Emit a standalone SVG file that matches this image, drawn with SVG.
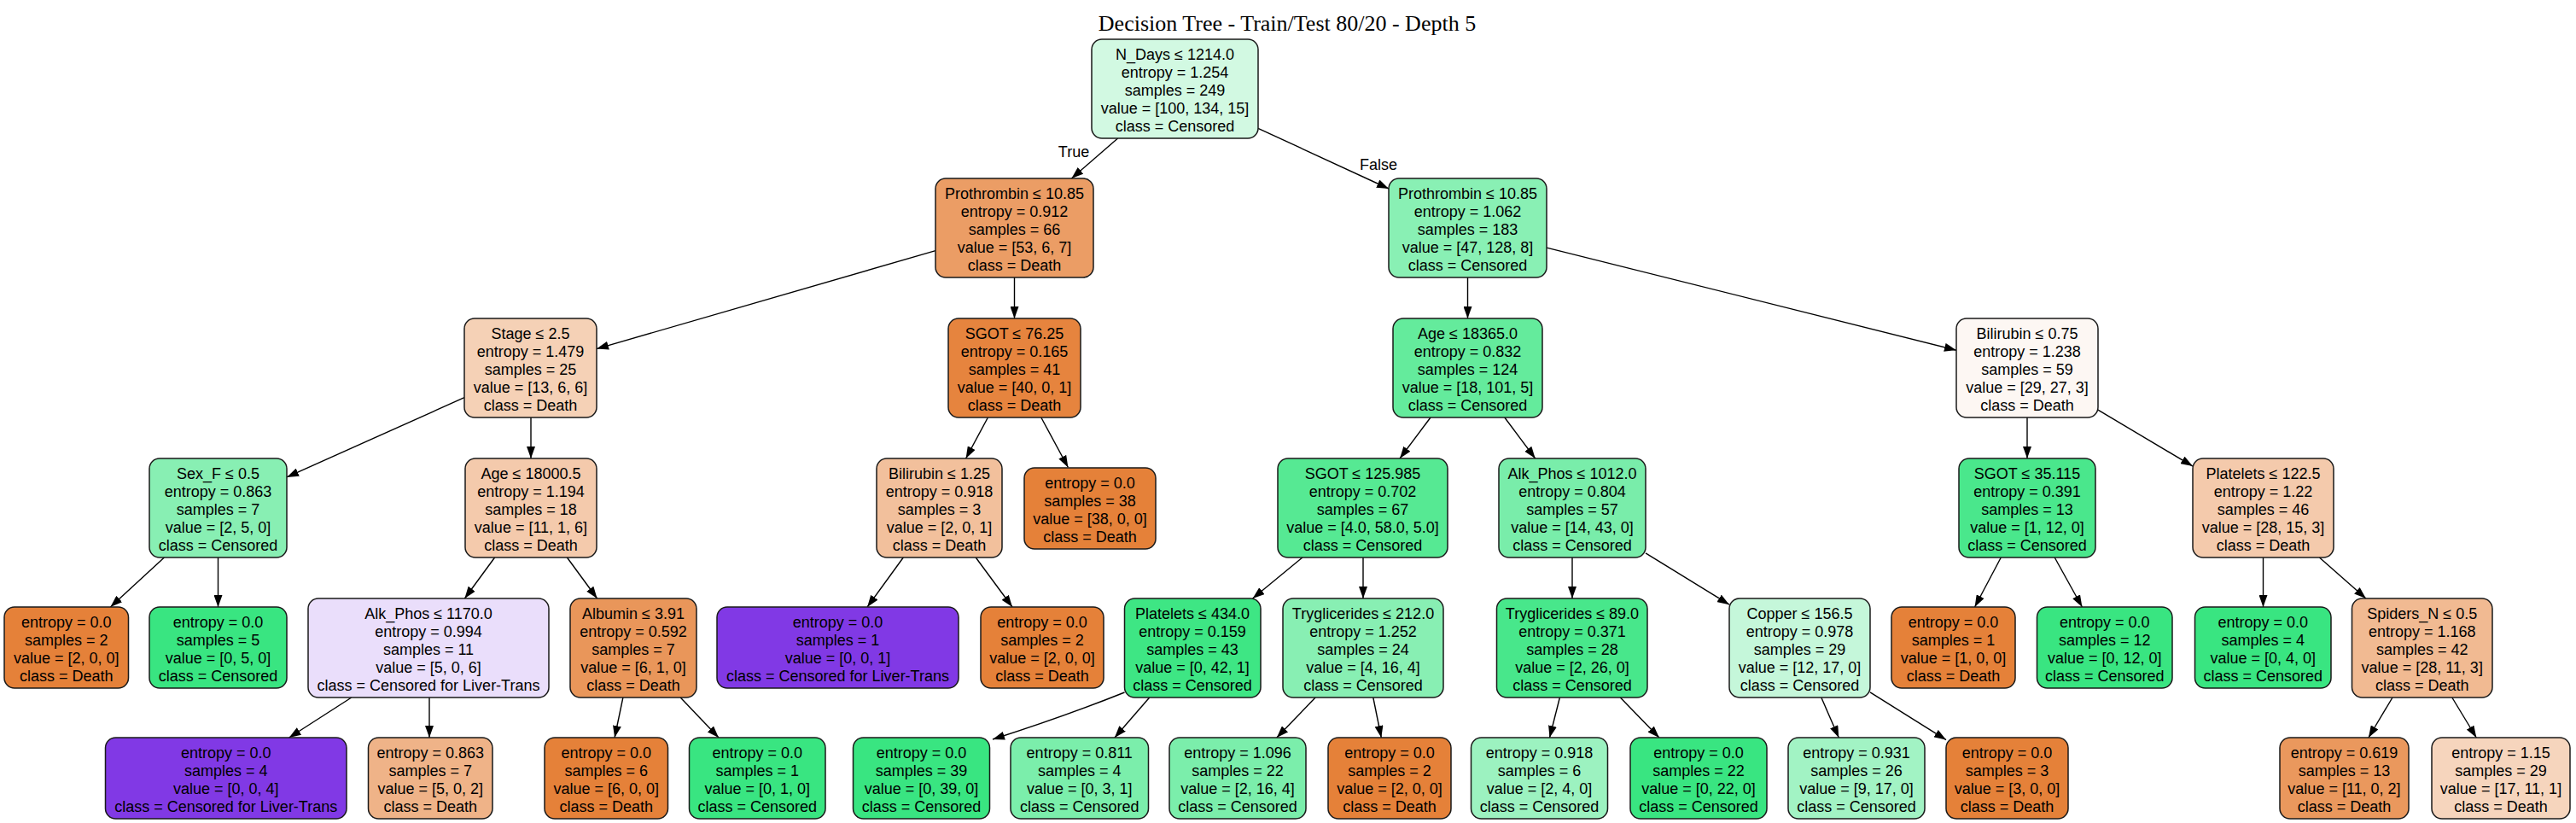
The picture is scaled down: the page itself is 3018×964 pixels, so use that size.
<svg xmlns="http://www.w3.org/2000/svg" width="3018" height="964" viewBox="0 0 3018 964">
<style>
.n rect{stroke:#1a1a1a;stroke-width:1.5;rx:12px;ry:12px}
text{font-family:"Liberation Sans",Arial,sans-serif;font-size:18px;fill:#000;text-anchor:middle}
.title{font-family:"Liberation Serif","Times New Roman",serif;font-size:26px}
#edges line,#edges path{stroke:#000;stroke-width:1.4;fill:none;marker-end:url(#a)}
</style>
<defs>
<marker id="a" markerWidth="14" markerHeight="10" refX="14" refY="5" orient="auto" markerUnits="userSpaceOnUse"><path d="M0,0 L14,5 L0,10 z" fill="#000"/></marker>
</defs>
<rect width="3018" height="964" fill="#fff"/>
<text class="title" x="1508" y="36">Decision Tree - Train/Test 80/20 - Depth 5</text>
<g id="edges">
<line x1="1309.6" y1="162" x2="1255.4" y2="209"/>
<line x1="1474" y1="150.3" x2="1627" y2="221"/>
<line x1="1096" y1="293.7" x2="699" y2="408.6"/>
<line x1="1188.5" y1="325" x2="1188.5" y2="373"/>
<line x1="1719.5" y1="325" x2="1719.5" y2="373"/>
<line x1="1812" y1="290.1" x2="2292" y2="410.2"/>
<line x1="544" y1="465.7" x2="336" y2="558.9"/>
<line x1="622" y1="489" x2="622" y2="537"/>
<line x1="1157.4" y1="489" x2="1131.6" y2="537"/>
<line x1="1219.8" y1="489" x2="1251.4" y2="547.5"/>
<line x1="1676" y1="489" x2="1640" y2="537"/>
<line x1="1762.8" y1="489" x2="1798.7" y2="537"/>
<line x1="2375" y1="489" x2="2375" y2="537"/>
<line x1="2458" y1="480.2" x2="2569" y2="546.1"/>
<line x1="192.4" y1="653" x2="129.4" y2="711"/>
<line x1="255.5" y1="653" x2="255.5" y2="711"/>
<line x1="579.6" y1="653" x2="544.4" y2="701"/>
<line x1="664.4" y1="653" x2="699.6" y2="701"/>
<line x1="1058.3" y1="653" x2="1016.1" y2="711"/>
<line x1="1143.2" y1="653" x2="1186" y2="711"/>
<line x1="1525.9" y1="653" x2="1467.6" y2="701"/>
<line x1="1597" y1="653" x2="1597" y2="701"/>
<line x1="1842" y1="653" x2="1842" y2="701"/>
<line x1="1928" y1="647.9" x2="2026" y2="708.2"/>
<line x1="2344.3" y1="653" x2="2313.6" y2="711"/>
<line x1="2407.2" y1="653" x2="2439.4" y2="711"/>
<line x1="2651.5" y1="653" x2="2651.5" y2="711"/>
<line x1="2717.4" y1="653" x2="2771.9" y2="701"/>
<line x1="411.8" y1="817" x2="338.7" y2="864"/>
<line x1="503" y1="817" x2="503" y2="864"/>
<line x1="729.9" y1="817" x2="720.1" y2="864"/>
<line x1="797.2" y1="817" x2="842" y2="864"/>
<path d="M1317.5,811 Q1245,840 1163,866"/>
<line x1="1346.7" y1="817" x2="1305.9" y2="864"/>
<line x1="1541.1" y1="817" x2="1495.8" y2="864"/>
<line x1="1608.8" y1="817" x2="1618.3" y2="864"/>
<line x1="1827.4" y1="817" x2="1815.5" y2="864"/>
<line x1="1898.3" y1="817" x2="1943.9" y2="864"/>
<line x1="2133.8" y1="817" x2="2154.3" y2="864"/>
<line x1="2191" y1="810.8" x2="2280" y2="866.6"/>
<line x1="2803" y1="817" x2="2774.9" y2="864"/>
<line x1="2872.8" y1="817" x2="2901.3" y2="864"/>
<text x="1258" y="183.5">True</text>
<text x="1615" y="198.5">False</text>
</g>
<g id="n0" class="n"><rect x="1279" y="46" width="195" height="116" fill="#d2f9e2"/><text y="69.5"><tspan x="1376.5">N_Days ≤ 1214.0</tspan><tspan x="1376.5" dy="21">entropy = 1.254</tspan><tspan x="1376.5" dy="21">samples = 249</tspan><tspan x="1376.5" dy="21">value = [100, 134, 15]</tspan><tspan x="1376.5" dy="21">class = Censored</tspan></text></g>
<g id="n1" class="n"><rect x="1096" y="209" width="185" height="116" fill="#eb9d65"/><text y="232.5"><tspan x="1188.5">Prothrombin ≤ 10.85</tspan><tspan x="1188.5" dy="21">entropy = 0.912</tspan><tspan x="1188.5" dy="21">samples = 66</tspan><tspan x="1188.5" dy="21">value = [53, 6, 7]</tspan><tspan x="1188.5" dy="21">class = Death</tspan></text></g>
<g id="n2" class="n"><rect x="1627" y="209" width="185" height="116" fill="#89f0b4"/><text y="232.5"><tspan x="1719.5">Prothrombin ≤ 10.85</tspan><tspan x="1719.5" dy="21">entropy = 1.062</tspan><tspan x="1719.5" dy="21">samples = 183</tspan><tspan x="1719.5" dy="21">value = [47, 128, 8]</tspan><tspan x="1719.5" dy="21">class = Censored</tspan></text></g>
<g id="n3" class="n"><rect x="544" y="373" width="155" height="116" fill="#f5d1b6"/><text y="396.5"><tspan x="621.5">Stage ≤ 2.5</tspan><tspan x="621.5" dy="21">entropy = 1.479</tspan><tspan x="621.5" dy="21">samples = 25</tspan><tspan x="621.5" dy="21">value = [13, 6, 6]</tspan><tspan x="621.5" dy="21">class = Death</tspan></text></g>
<g id="n4" class="n"><rect x="1111" y="373" width="155" height="116" fill="#e6843e"/><text y="396.5"><tspan x="1188.5">SGOT ≤ 76.25</tspan><tspan x="1188.5" dy="21">entropy = 0.165</tspan><tspan x="1188.5" dy="21">samples = 41</tspan><tspan x="1188.5" dy="21">value = [40, 0, 1]</tspan><tspan x="1188.5" dy="21">class = Death</tspan></text></g>
<g id="n5" class="n"><rect x="1632" y="373" width="175" height="116" fill="#64eb9c"/><text y="396.5"><tspan x="1719.5">Age ≤ 18365.0</tspan><tspan x="1719.5" dy="21">entropy = 0.832</tspan><tspan x="1719.5" dy="21">samples = 124</tspan><tspan x="1719.5" dy="21">value = [18, 101, 5]</tspan><tspan x="1719.5" dy="21">class = Censored</tspan></text></g>
<g id="n6" class="n"><rect x="2292" y="373" width="166" height="116" fill="#fdf7f3"/><text y="396.5"><tspan x="2375">Bilirubin ≤ 0.75</tspan><tspan x="2375" dy="21">entropy = 1.238</tspan><tspan x="2375" dy="21">samples = 59</tspan><tspan x="2375" dy="21">value = [29, 27, 3]</tspan><tspan x="2375" dy="21">class = Death</tspan></text></g>
<g id="n7" class="n"><rect x="175" y="537" width="161" height="116" fill="#88efb3"/><text y="560.5"><tspan x="255.5">Sex_F ≤ 0.5</tspan><tspan x="255.5" dy="21">entropy = 0.863</tspan><tspan x="255.5" dy="21">samples = 7</tspan><tspan x="255.5" dy="21">value = [2, 5, 0]</tspan><tspan x="255.5" dy="21">class = Censored</tspan></text></g>
<g id="n8" class="n"><rect x="545" y="537" width="154" height="116" fill="#f4caac"/><text y="560.5"><tspan x="622">Age ≤ 18000.5</tspan><tspan x="622" dy="21">entropy = 1.194</tspan><tspan x="622" dy="21">samples = 18</tspan><tspan x="622" dy="21">value = [11, 1, 6]</tspan><tspan x="622" dy="21">class = Death</tspan></text></g>
<g id="n9" class="n"><rect x="1027" y="537" width="147" height="116" fill="#f2c09c"/><text y="560.5"><tspan x="1100.5">Bilirubin ≤ 1.25</tspan><tspan x="1100.5" dy="21">entropy = 0.918</tspan><tspan x="1100.5" dy="21">samples = 3</tspan><tspan x="1100.5" dy="21">value = [2, 0, 1]</tspan><tspan x="1100.5" dy="21">class = Death</tspan></text></g>
<g id="n10" class="n"><rect x="1200" y="548" width="154" height="95" fill="#e58139"/><text y="571.5"><tspan x="1277">entropy = 0.0</tspan><tspan x="1277" dy="21">samples = 38</tspan><tspan x="1277" dy="21">value = [38, 0, 0]</tspan><tspan x="1277" dy="21">class = Death</tspan></text></g>
<g id="n11" class="n"><rect x="1497" y="537" width="199" height="116" fill="#56e993"/><text y="560.5"><tspan x="1596.5">SGOT ≤ 125.985</tspan><tspan x="1596.5" dy="21">entropy = 0.702</tspan><tspan x="1596.5" dy="21">samples = 67</tspan><tspan x="1596.5" dy="21">value = [4.0, 58.0, 5.0]</tspan><tspan x="1596.5" dy="21">class = Censored</tspan></text></g>
<g id="n12" class="n"><rect x="1756" y="537" width="172" height="116" fill="#79edaa"/><text y="560.5"><tspan x="1842">Alk_Phos ≤ 1012.0</tspan><tspan x="1842" dy="21">entropy = 0.804</tspan><tspan x="1842" dy="21">samples = 57</tspan><tspan x="1842" dy="21">value = [14, 43, 0]</tspan><tspan x="1842" dy="21">class = Censored</tspan></text></g>
<g id="n13" class="n"><rect x="2295" y="537" width="160" height="116" fill="#4ae78c"/><text y="560.5"><tspan x="2375">SGOT ≤ 35.115</tspan><tspan x="2375" dy="21">entropy = 0.391</tspan><tspan x="2375" dy="21">samples = 13</tspan><tspan x="2375" dy="21">value = [1, 12, 0]</tspan><tspan x="2375" dy="21">class = Censored</tspan></text></g>
<g id="n14" class="n"><rect x="2569" y="537" width="165" height="116" fill="#f4caac"/><text y="560.5"><tspan x="2651.5">Platelets ≤ 122.5</tspan><tspan x="2651.5" dy="21">entropy = 1.22</tspan><tspan x="2651.5" dy="21">samples = 46</tspan><tspan x="2651.5" dy="21">value = [28, 15, 3]</tspan><tspan x="2651.5" dy="21">class = Death</tspan></text></g>
<g id="n15" class="n"><rect x="5" y="711" width="145.5" height="95" fill="#e58139"/><text y="734.5"><tspan x="77.75">entropy = 0.0</tspan><tspan x="77.75" dy="21">samples = 2</tspan><tspan x="77.75" dy="21">value = [2, 0, 0]</tspan><tspan x="77.75" dy="21">class = Death</tspan></text></g>
<g id="n16" class="n"><rect x="175" y="711" width="161" height="95" fill="#39e581"/><text y="734.5"><tspan x="255.5">entropy = 0.0</tspan><tspan x="255.5" dy="21">samples = 5</tspan><tspan x="255.5" dy="21">value = [0, 5, 0]</tspan><tspan x="255.5" dy="21">class = Censored</tspan></text></g>
<g id="n17" class="n"><rect x="361" y="701" width="282" height="116" fill="#eadefb"/><text y="724.5"><tspan x="502">Alk_Phos ≤ 1170.0</tspan><tspan x="502" dy="21">entropy = 0.994</tspan><tspan x="502" dy="21">samples = 11</tspan><tspan x="502" dy="21">value = [5, 0, 6]</tspan><tspan x="502" dy="21">class = Censored for Liver-Trans</tspan></text></g>
<g id="n18" class="n"><rect x="668" y="701" width="148" height="116" fill="#e9965a"/><text y="724.5"><tspan x="742">Albumin ≤ 3.91</tspan><tspan x="742" dy="21">entropy = 0.592</tspan><tspan x="742" dy="21">samples = 7</tspan><tspan x="742" dy="21">value = [6, 1, 0]</tspan><tspan x="742" dy="21">class = Death</tspan></text></g>
<g id="n19" class="n"><rect x="840" y="711" width="283" height="95" fill="#8139e5"/><text y="734.5"><tspan x="981.5">entropy = 0.0</tspan><tspan x="981.5" dy="21">samples = 1</tspan><tspan x="981.5" dy="21">value = [0, 0, 1]</tspan><tspan x="981.5" dy="21">class = Censored for Liver-Trans</tspan></text></g>
<g id="n20" class="n"><rect x="1149" y="711" width="144" height="95" fill="#e58139"/><text y="734.5"><tspan x="1221">entropy = 0.0</tspan><tspan x="1221" dy="21">samples = 2</tspan><tspan x="1221" dy="21">value = [2, 0, 0]</tspan><tspan x="1221" dy="21">class = Death</tspan></text></g>
<g id="n21" class="n"><rect x="1317.5" y="701" width="159.5" height="116" fill="#3ee684"/><text y="724.5"><tspan x="1397">Platelets ≤ 434.0</tspan><tspan x="1397" dy="21">entropy = 0.159</tspan><tspan x="1397" dy="21">samples = 43</tspan><tspan x="1397" dy="21">value = [0, 42, 1]</tspan><tspan x="1397" dy="21">class = Censored</tspan></text></g>
<g id="n22" class="n"><rect x="1503" y="701" width="188" height="116" fill="#88efb3"/><text y="724.5"><tspan x="1597">Tryglicerides ≤ 212.0</tspan><tspan x="1597" dy="21">entropy = 1.252</tspan><tspan x="1597" dy="21">samples = 24</tspan><tspan x="1597" dy="21">value = [4, 16, 4]</tspan><tspan x="1597" dy="21">class = Censored</tspan></text></g>
<g id="n23" class="n"><rect x="1753.5" y="701" width="176.5" height="116" fill="#48e78b"/><text y="724.5"><tspan x="1842">Tryglicerides ≤ 89.0</tspan><tspan x="1842" dy="21">entropy = 0.371</tspan><tspan x="1842" dy="21">samples = 28</tspan><tspan x="1842" dy="21">value = [2, 26, 0]</tspan><tspan x="1842" dy="21">class = Censored</tspan></text></g>
<g id="n24" class="n"><rect x="2026" y="701" width="165" height="116" fill="#c5f7da"/><text y="724.5"><tspan x="2108.5">Copper ≤ 156.5</tspan><tspan x="2108.5" dy="21">entropy = 0.978</tspan><tspan x="2108.5" dy="21">samples = 29</tspan><tspan x="2108.5" dy="21">value = [12, 17, 0]</tspan><tspan x="2108.5" dy="21">class = Censored</tspan></text></g>
<g id="n25" class="n"><rect x="2216" y="711" width="145" height="95" fill="#e58139"/><text y="734.5"><tspan x="2288.5">entropy = 0.0</tspan><tspan x="2288.5" dy="21">samples = 1</tspan><tspan x="2288.5" dy="21">value = [1, 0, 0]</tspan><tspan x="2288.5" dy="21">class = Death</tspan></text></g>
<g id="n26" class="n"><rect x="2386.5" y="711" width="158.5" height="95" fill="#39e581"/><text y="734.5"><tspan x="2465.75">entropy = 0.0</tspan><tspan x="2465.75" dy="21">samples = 12</tspan><tspan x="2465.75" dy="21">value = [0, 12, 0]</tspan><tspan x="2465.75" dy="21">class = Censored</tspan></text></g>
<g id="n27" class="n"><rect x="2571.5" y="711" width="159.5" height="95" fill="#39e581"/><text y="734.5"><tspan x="2651.25">entropy = 0.0</tspan><tspan x="2651.25" dy="21">samples = 4</tspan><tspan x="2651.25" dy="21">value = [0, 4, 0]</tspan><tspan x="2651.25" dy="21">class = Censored</tspan></text></g>
<g id="n28" class="n"><rect x="2755.5" y="701" width="164.5" height="116" fill="#f1ba92"/><text y="724.5"><tspan x="2837.75">Spiders_N ≤ 0.5</tspan><tspan x="2837.75" dy="21">entropy = 1.168</tspan><tspan x="2837.75" dy="21">samples = 42</tspan><tspan x="2837.75" dy="21">value = [28, 11, 3]</tspan><tspan x="2837.75" dy="21">class = Death</tspan></text></g>
<g id="n29" class="n"><rect x="123.5" y="864" width="282.5" height="95" fill="#8139e5"/><text y="887.5"><tspan x="264.75">entropy = 0.0</tspan><tspan x="264.75" dy="21">samples = 4</tspan><tspan x="264.75" dy="21">value = [0, 0, 4]</tspan><tspan x="264.75" dy="21">class = Censored for Liver-Trans</tspan></text></g>
<g id="n30" class="n"><rect x="431.5" y="864" width="145.5" height="95" fill="#efb388"/><text y="887.5"><tspan x="504.25">entropy = 0.863</tspan><tspan x="504.25" dy="21">samples = 7</tspan><tspan x="504.25" dy="21">value = [5, 0, 2]</tspan><tspan x="504.25" dy="21">class = Death</tspan></text></g>
<g id="n31" class="n"><rect x="638" y="864" width="144.5" height="95" fill="#e58139"/><text y="887.5"><tspan x="710.25">entropy = 0.0</tspan><tspan x="710.25" dy="21">samples = 6</tspan><tspan x="710.25" dy="21">value = [6, 0, 0]</tspan><tspan x="710.25" dy="21">class = Death</tspan></text></g>
<g id="n32" class="n"><rect x="807.5" y="864" width="159.5" height="95" fill="#39e581"/><text y="887.5"><tspan x="887.25">entropy = 0.0</tspan><tspan x="887.25" dy="21">samples = 1</tspan><tspan x="887.25" dy="21">value = [0, 1, 0]</tspan><tspan x="887.25" dy="21">class = Censored</tspan></text></g>
<g id="n33" class="n"><rect x="999.5" y="864" width="160" height="95" fill="#39e581"/><text y="887.5"><tspan x="1079.5">entropy = 0.0</tspan><tspan x="1079.5" dy="21">samples = 39</tspan><tspan x="1079.5" dy="21">value = [0, 39, 0]</tspan><tspan x="1079.5" dy="21">class = Censored</tspan></text></g>
<g id="n34" class="n"><rect x="1184" y="864" width="161.5" height="95" fill="#7beeab"/><text y="887.5"><tspan x="1264.75">entropy = 0.811</tspan><tspan x="1264.75" dy="21">samples = 4</tspan><tspan x="1264.75" dy="21">value = [0, 3, 1]</tspan><tspan x="1264.75" dy="21">class = Censored</tspan></text></g>
<g id="n35" class="n"><rect x="1370" y="864" width="160" height="95" fill="#7beeab"/><text y="887.5"><tspan x="1450">entropy = 1.096</tspan><tspan x="1450" dy="21">samples = 22</tspan><tspan x="1450" dy="21">value = [2, 16, 4]</tspan><tspan x="1450" dy="21">class = Censored</tspan></text></g>
<g id="n36" class="n"><rect x="1556" y="864" width="144" height="95" fill="#e58139"/><text y="887.5"><tspan x="1628">entropy = 0.0</tspan><tspan x="1628" dy="21">samples = 2</tspan><tspan x="1628" dy="21">value = [2, 0, 0]</tspan><tspan x="1628" dy="21">class = Death</tspan></text></g>
<g id="n37" class="n"><rect x="1723.5" y="864" width="160" height="95" fill="#9cf2c0"/><text y="887.5"><tspan x="1803.5">entropy = 0.918</tspan><tspan x="1803.5" dy="21">samples = 6</tspan><tspan x="1803.5" dy="21">value = [2, 4, 0]</tspan><tspan x="1803.5" dy="21">class = Censored</tspan></text></g>
<g id="n38" class="n"><rect x="1910" y="864" width="160" height="95" fill="#39e581"/><text y="887.5"><tspan x="1990">entropy = 0.0</tspan><tspan x="1990" dy="21">samples = 22</tspan><tspan x="1990" dy="21">value = [0, 22, 0]</tspan><tspan x="1990" dy="21">class = Censored</tspan></text></g>
<g id="n39" class="n"><rect x="2095" y="864" width="160" height="95" fill="#a2f3c4"/><text y="887.5"><tspan x="2175">entropy = 0.931</tspan><tspan x="2175" dy="21">samples = 26</tspan><tspan x="2175" dy="21">value = [9, 17, 0]</tspan><tspan x="2175" dy="21">class = Censored</tspan></text></g>
<g id="n40" class="n"><rect x="2280" y="864" width="143" height="95" fill="#e58139"/><text y="887.5"><tspan x="2351.5">entropy = 0.0</tspan><tspan x="2351.5" dy="21">samples = 3</tspan><tspan x="2351.5" dy="21">value = [3, 0, 0]</tspan><tspan x="2351.5" dy="21">class = Death</tspan></text></g>
<g id="n41" class="n"><rect x="2671" y="864" width="151" height="95" fill="#ea985d"/><text y="887.5"><tspan x="2746.5">entropy = 0.619</tspan><tspan x="2746.5" dy="21">samples = 13</tspan><tspan x="2746.5" dy="21">value = [11, 0, 2]</tspan><tspan x="2746.5" dy="21">class = Death</tspan></text></g>
<g id="n42" class="n"><rect x="2849" y="864" width="162" height="95" fill="#f6d5bd"/><text y="887.5"><tspan x="2930">entropy = 1.15</tspan><tspan x="2930" dy="21">samples = 29</tspan><tspan x="2930" dy="21">value = [17, 11, 1]</tspan><tspan x="2930" dy="21">class = Death</tspan></text></g>
</svg>
